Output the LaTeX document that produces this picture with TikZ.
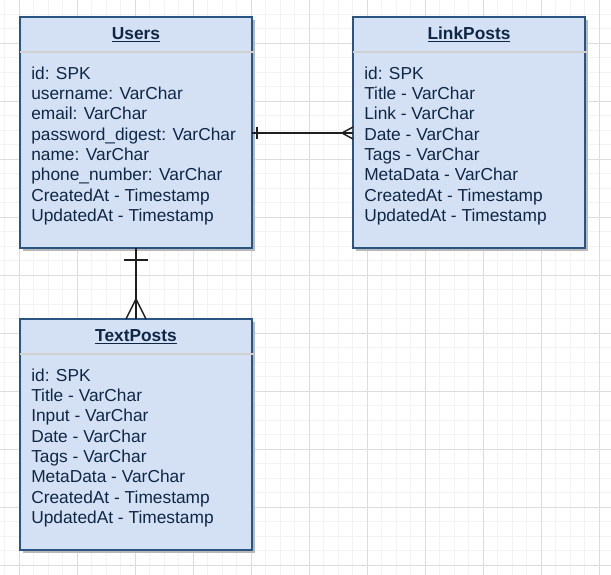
\documentclass[tikz,border=0pt]{standalone}
\usepackage{fontspec}
\setmainfont{Liberation Sans}
\usepackage{xcolor}
\usepackage{tikz}
\usetikzlibrary{calc}
\usetikzlibrary{positioning}
\usetikzlibrary{shadows}
\definecolor{boxfill}{HTML}{D4E1F5}
\definecolor{boxline}{HTML}{2A5482}
\definecolor{boxtext}{HTML}{0E2745}
\definecolor{gridminor}{HTML}{F3F3F3}
\definecolor{gridmajor}{HTML}{DDDDDD}
\definecolor{relcolor}{HTML}{1E1E1E}
\tikzset{
  entityhead/.style={draw=boxline,fill=boxfill,line width=1.4pt,inner sep=0pt,outer sep=0pt,
    minimum width=174pt,minimum height=26.25pt,text=boxtext,font=\fontsize{13}{15.2}\selectfont\bfseries,
    drop shadow={shadow xshift=2.25pt,shadow yshift=-2.25pt,fill=black!28,opacity=1}},
  entitybody/.style={entityhead,minimum height=147pt},
  attrlist/.style={inner sep=0pt,align=left,text=boxtext,anchor=north west},
  seprule/.style={draw=black!18,line width=1.2pt},
  relline/.style={draw=relcolor,line width=1.1pt}
}
\newcommand{\entitytitle}[1]{\underline{#1}}

\begin{document}
\begin{tikzpicture}[x=0.75pt,y=-0.75pt,every node/.style={font=\fontsize{13}{15.2}\selectfont}]

\useasboundingbox (0,0) rectangle (611,575);
\begin{scope}
\clip (0,0) rectangle (611,575);
\foreach \k in {-1,...,42} \draw[gridminor,line width=0.75pt] ({19.3+14.5*\k},0) -- ({19.3+14.5*\k},575);
\foreach \k in {0,...,40} \draw[gridminor,line width=0.75pt] (0,{-0.2+14.5*\k}) -- (611,{-0.2+14.5*\k});
\foreach \k in {0,...,10} \draw[gridmajor,line width=0.75pt] ({19.3+58*\k},0) -- ({19.3+58*\k},575);
\foreach \k in {-1,...,9} \draw[gridmajor,line width=0.75pt] (0,{43.3+58*\k}) -- (611,{43.3+58*\k});
\end{scope}

\node[entityhead] at (136,34.5) (usershead) {\entitytitle{Users}};
\node[entitybody,below=0pt of usershead] (usersbody) {};
\draw[seprule] (usershead.south west) -- ($(usershead.south east)+(2,0)$);
\node[attrlist] at ($(usersbody.north west)+(11,14.6)$) (usersattr) {id: SPK\\ username: VarChar\\ email: VarChar\\ password\_digest: VarChar\\ name: VarChar\\ phone\_number: VarChar\\ CreatedAt - Timestamp\\ UpdatedAt - Timestamp};

\node[entityhead] at (469,34.5) (linkhead) {\entitytitle{LinkPosts}};
\node[entitybody,below=0pt of linkhead] (linkbody) {};
\draw[seprule] (linkhead.south west) -- ($(linkhead.south east)+(2,0)$);
\node[attrlist] at ($(linkbody.north west)+(11,14.6)$) (linkattr) {id: SPK\\ Title - VarChar\\ Link - VarChar\\ Date - VarChar\\ Tags - VarChar\\ MetaData - VarChar\\ CreatedAt - Timestamp\\ UpdatedAt - Timestamp};

\node[entityhead] at (136,336.5) (textshead) {\entitytitle{TextPosts}};
\node[entitybody,below=0pt of textshead] (textsbody) {};
\draw[seprule] (textshead.south west) -- ($(textshead.south east)+(2,0)$);
\node[attrlist] at ($(textsbody.north west)+(11,14.6)$) (textsattr) {id: SPK\\ Title - VarChar\\ Input - VarChar\\ Date - VarChar\\ Tags - VarChar\\ MetaData - VarChar\\ CreatedAt - Timestamp\\ UpdatedAt - Timestamp};

% users 1 -- n linkposts
\coordinate (ul) at ($(usersbody.north east)+(0,81)$);
\coordinate (lu) at (linkbody.west |- ul);
\draw[relline] (ul) -- (lu);
\draw[relline] ($(ul)+(5,-6)$) -- ($(ul)+(5,6)$);
\draw[relline] ($(lu)+(0,-6)$) -- ($(lu)+(-11,0)$) -- ($(lu)+(0,6)$);

% users 1 -- n textposts
\draw[relline] (usersbody.south) -- (textshead.north);
\draw[relline] ($(usersbody.south)+(-12,12)$) -- ($(usersbody.south)+(12,12)$);
\draw[relline] ($(textshead.north)+(-10,0)$) -- ($(textshead.north)+(0,-20)$) -- ($(textshead.north)+(10,0)$);

\end{tikzpicture}
\end{document}
